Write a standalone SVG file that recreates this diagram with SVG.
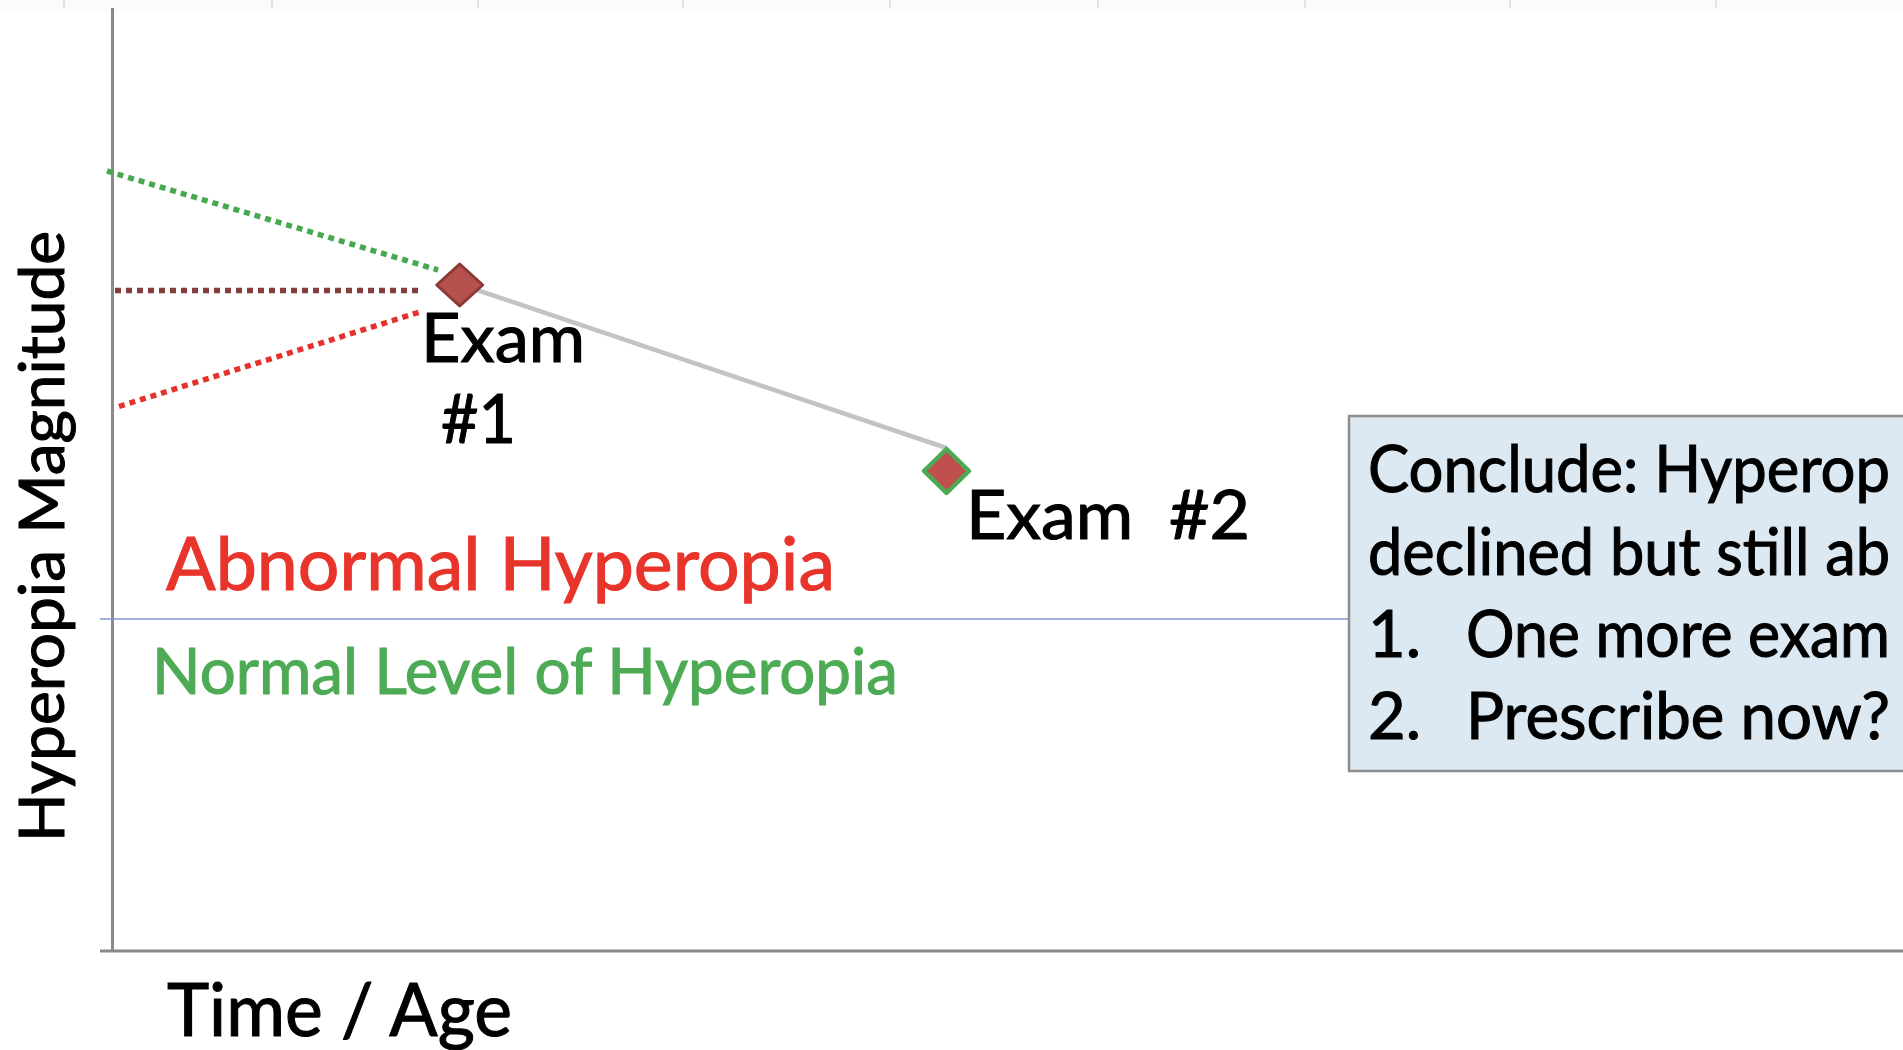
<svg xmlns="http://www.w3.org/2000/svg" width="1903" height="1050" viewBox="0 0 1903 1050">
<defs>
<style>
.t{font-family:Lato,"Open Sans","Liberation Sans",sans-serif;stroke-width:1.1;}
.blk{fill:#000;stroke:#000;}
.red{fill:#e8342a;stroke:#e8342a;}
.grn{fill:#4eab55;stroke:#4eab55;}
.axis{stroke:#8a8a8a;stroke-width:3;fill:none;}
.dot{stroke-width:5.5;stroke-dasharray:6 5;fill:none;}
.tick{stroke:#dcdcdc;stroke-width:1.5;}
</style>
</defs>
<rect width="1903" height="1050" fill="#fff"/>
<rect width="1903" height="12" fill="#fbfbfb"/>
<g id="ticks">
<line class="tick" x1="64" y1="0" x2="64" y2="8"/>
<line class="tick" x1="272" y1="0" x2="272" y2="8"/>
<line class="tick" x1="478" y1="0" x2="478" y2="8"/>
<line class="tick" x1="683" y1="0" x2="683" y2="8"/>
<line class="tick" x1="890" y1="0" x2="890" y2="8"/>
<line class="tick" x1="1098" y1="0" x2="1098" y2="8"/>
<line class="tick" x1="1305" y1="0" x2="1305" y2="8"/>
<line class="tick" x1="1510" y1="0" x2="1510" y2="8"/>
<line class="tick" x1="1716" y1="0" x2="1716" y2="8"/>
</g>
<g id="axes">
<line class="axis" x1="112.5" y1="8" x2="112.5" y2="951"/>
<line class="axis" x1="100" y1="951" x2="1903" y2="951"/>
</g>
<g id="threshold">
<line x1="100" y1="619" x2="1349" y2="619" stroke="#8096d6" stroke-width="1.6"/>
</g>
<g id="connectors">
<line class="dot" x1="107" y1="171" x2="438" y2="270" stroke="#47a94f"/>
<line class="dot" x1="115" y1="290.5" x2="422" y2="290.5" stroke="#843d3a"/>
<line class="dot" x1="119" y1="406.5" x2="423" y2="311" stroke="#e4332c"/>
<line x1="462" y1="285" x2="946.5" y2="448" stroke="#c3c3c3" stroke-width="4.5"/>
</g>
<g id="exam1">
<polygon points="459.7,264 482.7,285 459.7,306 436.7,285" fill="#b5524e" stroke="#8c3935" stroke-width="3" stroke-linejoin="round"/>
<text class="t blk" x="421" y="362" font-size="68" textLength="164" lengthAdjust="spacingAndGlyphs">Exam</text>
<text class="t blk" x="441" y="443" font-size="68" textLength="75" lengthAdjust="spacingAndGlyphs">#1</text>
</g>
<g id="exam2">
<polygon points="946.5,449 969,471 946.5,493 924,471" fill="#c0504d" stroke="#4caa52" stroke-width="4.5" stroke-linejoin="round"/>
<text class="t blk" x="966" y="539" font-size="68" textLength="284" lengthAdjust="spacingAndGlyphs" xml:space="preserve">Exam  #2</text>
</g>
<g id="labels">
<text class="t red" x="166" y="590" font-size="73" textLength="669" lengthAdjust="spacingAndGlyphs">Abnormal Hyperopia</text>
<text class="t grn" x="152" y="694" font-size="64" textLength="746" lengthAdjust="spacingAndGlyphs">Normal Level of Hyperopia</text>
<text class="t blk" x="167" y="1036" font-size="74" textLength="345" lengthAdjust="spacingAndGlyphs">Time / Age</text>
<text class="t blk" transform="translate(64,842) rotate(-90)" x="0" y="0" font-size="61" textLength="611" lengthAdjust="spacingAndGlyphs">Hyperopia Magnitude</text>
</g>
<g id="conclusion">
<rect x="1349" y="416" width="600" height="355" fill="#dce9f2" stroke="#8e8e8e" stroke-width="2.5"/>
<text class="t blk" x="1368" y="492" font-size="65" textLength="522" lengthAdjust="spacingAndGlyphs">Conclude: Hyperop</text>
<text class="t blk" x="1368" y="575" font-size="65" textLength="522" lengthAdjust="spacingAndGlyphs">declined but still ab</text>
<text class="t blk" x="1368" y="657" font-size="65">1.</text>
<text class="t blk" x="1466" y="657" font-size="65" textLength="424" lengthAdjust="spacingAndGlyphs">One more exam</text>
<text class="t blk" x="1368" y="739" font-size="65">2.</text>
<text class="t blk" x="1466" y="739" font-size="65" textLength="424" lengthAdjust="spacingAndGlyphs">Prescribe now?</text>
</g>
</svg>
